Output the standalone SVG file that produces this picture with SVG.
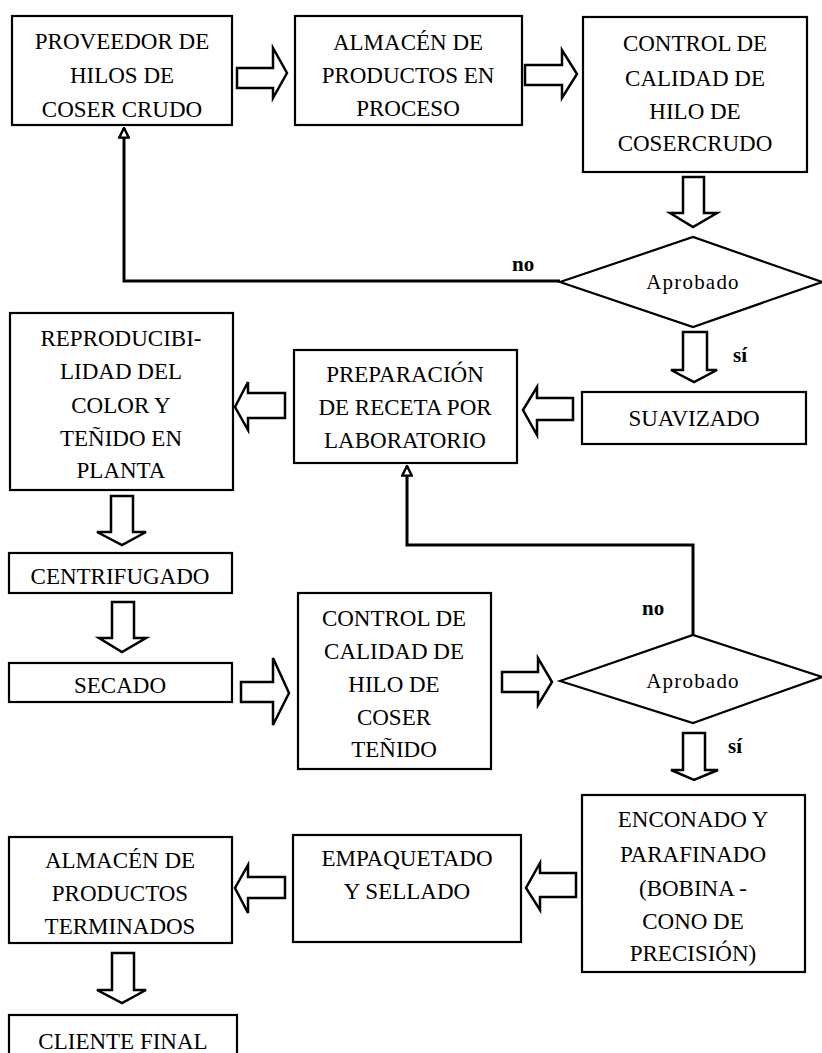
<svg xmlns="http://www.w3.org/2000/svg" width="822" height="1053" viewBox="0 0 822 1053">
<defs>
<style>
.box{fill:#fff;stroke:#000;stroke-width:2.2}
.t{font-family:"Liberation Serif","Times New Roman",serif;font-size:23px;fill:#000;text-anchor:middle}
.d{font-family:"Liberation Serif","Times New Roman",serif;font-size:21px;fill:#000;text-anchor:middle;letter-spacing:1.2px}
.lb{font-family:"Liberation Serif","Times New Roman",serif;font-size:21px;font-weight:bold;fill:#000}
.ar{fill:#fff;stroke:#000;stroke-width:2.5;stroke-linejoin:miter}
.fb{fill:none;stroke:#000;stroke-width:3}
</style>
<marker id="oh" viewBox="0 0 10 10" refX="9" refY="5" markerWidth="4" markerHeight="4" orient="auto" markerUnits="strokeWidth">
<path d="M1,1 L9,5 L1,9 Z" fill="#fff" stroke="#000" stroke-width="2"/>
</marker>
</defs>
<rect width="822" height="1053" fill="#fff"/>

<g id="connectors">
<path class="ar" d="M237,68 H273 V48 L287,73 L273,98 V88 H237 Z"/>
<path class="ar" d="M525,65 H562 V50 L577,74 L562,98 V85 H525 Z"/>
<path class="ar" d="M683,177 H704 V213 H717 L693,227 L670,213 H683 Z"/>
<path class="ar" d="M683,332 H707 V370 H717 L694,382 L671,370 H683 Z"/>
<path class="ar" d="M573,398 H537 V387 L523,410 L537,435 V420 H573 Z"/>
<path class="ar" d="M285,393 H248 V382 L235,407 L248,430 V418 H285 Z"/>
<path class="ar" d="M111,496 H133 V532 H146 L122,545 L97,532 H111 Z"/>
<path class="ar" d="M112,602 H134 V638 H146 L122,652 L99,638 H112 Z"/>
<path class="ar" d="M241,682 H273 V658 L289,693 L273,725 V702 H241 Z"/>
<path class="ar" d="M502,672 H538 V658 L552,682 L538,705 V692 H502 Z"/>
<path class="ar" d="M683,733 H705 V770 H718 L694,780 L671,770 H683 Z"/>
<path class="ar" d="M576,873 H540 V863 L526,888 L540,910 V897 H576 Z"/>
<path class="ar" d="M285,877 H248 V865 L235,888 L248,913 V898 H285 Z"/>
<path class="ar" d="M112,953 H134 V990 H146 L122,1003 L97,990 H112 Z"/>
<path class="fb" d="M560,281 H124 V128" marker-end="url(#oh)"/>
<path class="fb" d="M693,635 V545 H407 V466" marker-end="url(#oh)"/>
<text class="lb" x="512" y="271">no</text>
<text class="lb" x="642" y="615">no</text>
<text class="lb" x="733" y="362">sí</text>
<text class="lb" x="728" y="753">sí</text>
</g>

<g id="n1"><rect class="box" x="12" y="16" width="220" height="109"/>
<text class="t" x="122" y="49">PROVEEDOR DE</text><text class="t" x="122" y="83">HILOS DE</text><text class="t" x="122" y="117">COSER CRUDO</text></g>

<g id="n2"><rect class="box" x="295" y="16" width="227" height="109"/>
<text class="t" x="408" y="50">ALMACÉN DE</text><text class="t" x="408" y="83">PRODUCTOS EN</text><text class="t" x="408" y="116">PROCESO</text></g>

<g id="n3"><rect class="box" x="583" y="17" width="224" height="155"/>
<text class="t" x="695" y="51">CONTROL DE</text><text class="t" x="695" y="86">CALIDAD DE</text><text class="t" x="695" y="119">HILO DE</text><text class="t" x="695" y="151">COSERCRUDO</text></g>

<g id="d1"><path class="box" d="M560,282 L693,237 L822,282 L693,327 Z"/>
<text class="d" x="693" y="289">Aprobado</text></g>

<g id="n4"><rect class="box" x="10" y="313" width="223" height="177"/>
<text class="t" x="121" y="346">REPRODUCIBI-</text><text class="t" x="121" y="379">LIDAD DEL</text><text class="t" x="121" y="413">COLOR Y</text><text class="t" x="121" y="446">TEÑIDO EN</text><text class="t" x="121" y="478">PLANTA</text></g>

<g id="n5"><rect class="box" x="294" y="350" width="223" height="113"/>
<text class="t" x="405" y="382">PREPARACIÓN</text><text class="t" x="405" y="415">DE RECETA POR</text><text class="t" x="405" y="448">LABORATORIO</text></g>

<g id="n6"><rect class="box" x="582" y="392" width="224" height="52"/>
<text class="t" x="694" y="426">SUAVIZADO</text></g>

<g id="n7"><rect class="box" x="9" y="553" width="223" height="40"/>
<text class="t" x="120" y="584">CENTRIFUGADO</text></g>

<g id="n8"><rect class="box" x="9" y="663" width="223" height="39"/>
<text class="t" x="120" y="693">SECADO</text></g>

<g id="n9"><rect class="box" x="298" y="593" width="193" height="176"/>
<text class="t" x="394" y="626">CONTROL DE</text><text class="t" x="394" y="659">CALIDAD DE</text><text class="t" x="394" y="692">HILO DE</text><text class="t" x="394" y="725">COSER</text><text class="t" x="394" y="757">TEÑIDO</text></g>

<g id="d2"><path class="box" d="M560,681 L693,635 L822,677 L693,723 Z"/>
<text class="d" x="693" y="688">Aprobado</text></g>

<g id="n10"><rect class="box" x="582" y="795" width="223" height="177"/>
<text class="t" x="693" y="827">ENCONADO Y</text><text class="t" x="693" y="862">PARAFINADO</text><text class="t" x="693" y="896">(BOBINA -</text><text class="t" x="693" y="929">CONO DE</text><text class="t" x="693" y="961">PRECISIÓN)</text></g>

<g id="n11"><rect class="box" x="293" y="835" width="228" height="107"/>
<text class="t" x="407" y="866">EMPAQUETADO</text><text class="t" x="407" y="899">Y SELLADO</text></g>

<g id="n12"><rect class="box" x="9" y="837" width="223" height="106"/>
<text class="t" x="120" y="868">ALMACÉN DE</text><text class="t" x="120" y="901">PRODUCTOS</text><text class="t" x="120" y="934">TERMINADOS</text></g>

<g id="n13"><rect class="box" x="9" y="1015" width="228" height="50"/>
<text class="t" x="123" y="1049">CLIENTE FINAL</text></g>
</svg>
